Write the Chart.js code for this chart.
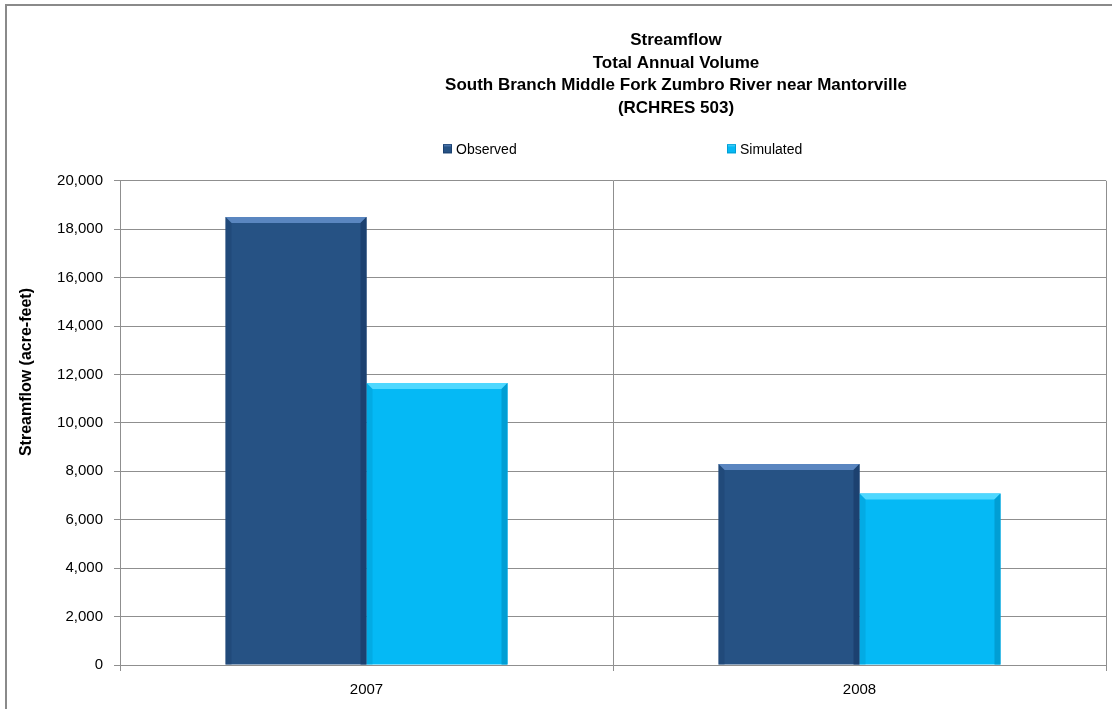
<!DOCTYPE html>
<html>
<head>
<meta charset="utf-8">
<title>Streamflow Total Annual Volume</title>
<script src="https://cdn.jsdelivr.net/npm/chart.js@4.4.1/dist/chart.umd.min.js"></script>
<style>
  html, body { margin: 0; padding: 0; background: #fff; overflow: hidden; }
  #frame { position: absolute; left: 5px; top: 4px; width: 1400px; height: 800px;
           border: 2px solid #8a8a8a; box-sizing: border-box; }
  #chart { position: absolute; left: 0; top: 0; }
</style>
</head>
<body>
<div id="frame"></div>
<canvas id="chart" width="1352" height="709"></canvas>
<script>
// data
const years = ["2007", "2008"];
const observed = [18500, 8300];
const simulated = [11650, 7080];
const seriesNames = ["Observed", "Simulated"];
const titleLines = [
  "Streamflow",
  "Total Annual Volume",
  "South Branch Middle Fork Zumbro River near Mantorville",
  "(RCHRES 503)"
];
const yAxisTitle = "Streamflow (acre-feet)";
const yMin = 0, yMax = 20000, yStep = 2000;

const FONT = "'Liberation Sans', Arial, sans-serif";
const GRID = "#8f8f8f";

// face / light edge / dark edge for the bevelled bars
const palette = [
  { face: "#265284", light: "#5a86c0", dark: "#1c4170" },
  { face: "#05b9f5", light: "#4fd8ff", dark: "#019ed4" }
];

function bevel(ctx, l, t, r, b, c) {
  const e = Math.min(6, (r - l) / 4, (b - t) / 2);
  ctx.fillStyle = c.light;              // top edge
  ctx.beginPath();
  ctx.moveTo(l, t); ctx.lineTo(r, t); ctx.lineTo(r - e, t + e); ctx.lineTo(l + e, t + e);
  ctx.closePath(); ctx.fill();
  ctx.fillStyle = c.dark;               // right edge
  ctx.beginPath();
  ctx.moveTo(r, t); ctx.lineTo(r, b); ctx.lineTo(r - e, b); ctx.lineTo(r - e, t + e);
  ctx.closePath(); ctx.fill();
  ctx.globalAlpha = 0.5;                // left edge
  ctx.beginPath();
  ctx.moveTo(l, t); ctx.lineTo(l + e, t + e); ctx.lineTo(l + e, b); ctx.lineTo(l, b);
  ctx.closePath(); ctx.fill();
  ctx.globalAlpha = 1;
}

const decor = {
  id: "decor",
  afterDatasetsDraw(chart) {
    const ctx = chart.ctx;
    chart.data.datasets.forEach((ds, i) => {
      chart.getDatasetMeta(i).data.forEach(el => {
        const p = el.getProps(["x", "y", "base", "width"], true);
        bevel(ctx, p.x - p.width / 2, p.y, p.x + p.width / 2, p.base, palette[i]);
      });
    });
  },
  afterDraw(chart) {
    const ctx = chart.ctx;
    const area = chart.chartArea;
    ctx.save();
    // legend
    const legendY = area.top - 32;
    const legendX = [443, 727];
    ctx.font = "14px " + FONT;
    ctx.textBaseline = "middle";
    ctx.textAlign = "left";
    seriesNames.forEach((name, i) => {
      const x = legendX[i];
      ctx.fillStyle = palette[i].face;
      ctx.fillRect(x, legendY - 4.5, 9, 9);
      ctx.fillStyle = palette[i].light;
      ctx.fillRect(x, legendY - 4.5, 9, 2);
      ctx.strokeStyle = palette[i].dark;
      ctx.lineWidth = 1;
      ctx.strokeRect(x + 0.5, legendY - 4, 8, 8);
      ctx.fillStyle = "#000";
      ctx.fillText(name, x + 13, legendY + 1);
    });
    // y axis title
    ctx.translate(27, area.top + (area.bottom - area.top) * 0.395);
    ctx.rotate(-Math.PI / 2);
    ctx.font = "bold 16px " + FONT;
    ctx.textAlign = "center";
    ctx.fillText(yAxisTitle, 0, 0);
    ctx.restore();
  }
};

new Chart(document.getElementById("chart"), {
  type: "bar",
  data: {
    labels: years,
    datasets: [
      { label: seriesNames[0], data: observed, backgroundColor: palette[0].face,
        borderWidth: 0, categoryPercentage: 0.572, barPercentage: 1 },
      { label: seriesNames[1], data: simulated, backgroundColor: palette[1].face,
        borderWidth: 0, categoryPercentage: 0.572, barPercentage: 1 }
    ]
  },
  options: {
    responsive: false,
    animation: false,
    layout: { padding: 0 },
    plugins: {
      legend: { display: false },
      tooltip: { enabled: false },
      title: {
        display: true,
        text: titleLines,
        color: "#000",
        font: { family: FONT, size: 17, weight: "bold", lineHeight: 1.335 },
        padding: { top: 29, bottom: 61 }
      }
    },
    scales: {
      x: {
        grid: { offset: true, color: GRID, tickLength: 6 },
        border: { color: GRID },
        ticks: { color: "#000", font: { family: FONT, size: 15 }, padding: 10 },
        afterFit(s) { s.height = 44; }
      },
      y: {
        min: yMin, max: yMax,
        grid: { color: GRID, tickLength: 6 },
        border: { color: GRID },
        ticks: {
          stepSize: yStep, color: "#000", padding: 11,
          font: { family: FONT, size: 15 },
          callback: v => v.toLocaleString("en-US")
        },
        afterFit(s) { s.width = 120; }
      },
      // blank right-hand strip: the frame runs past the picture's right edge
      spacer: {
        position: "right",
        min: yMin, max: yMax,
        grid: { display: false },
        border: { display: false },
        ticks: { display: false },
        afterFit(s) { s.width = 246; }
      }
    }
  },
  plugins: [decor]
});
</script>
</body>
</html>
